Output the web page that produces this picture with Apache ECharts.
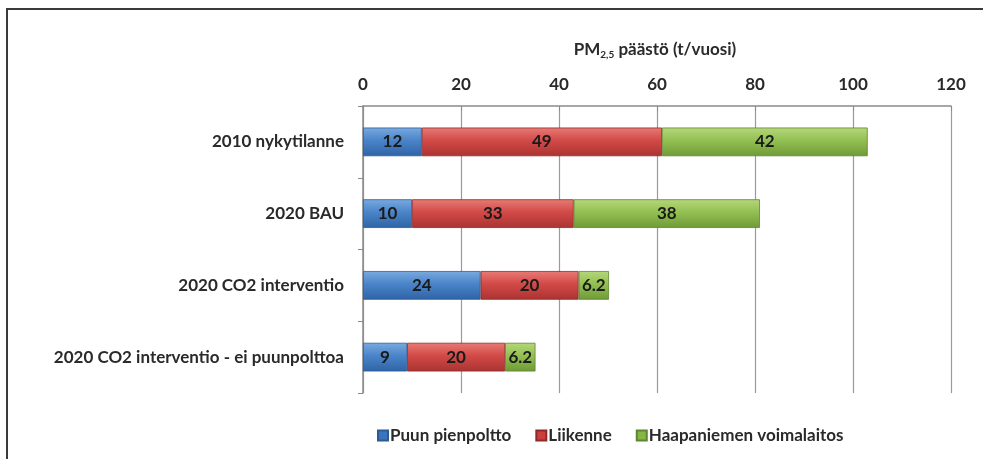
<!DOCTYPE html>
<html>
<head>
<meta charset="utf-8">
<script src="https://cdn.jsdelivr.net/npm/echarts@6/dist/echarts.min.js"></script>
<style>
  html, body { margin: 0; padding: 0; background: #fff; }
  #chart { width: 983px; height: 459px; }
</style>
</head>
<body>
<div id="chart"></div>
<script>
const categories = ['2010 nykytilanne', '2020 BAU', '2020 CO2 interventio', '2020 CO2 interventio - ei puunpolttoa']
const seriesNames = ['Puun pienpoltto', 'Liikenne', 'Haapaniemen voimalaitos']
const puu = [12, 10, 24, 9]
const liikenne = [49, 33, 20, 20]
const voimalaitos = [42, 38, 6.2, 6.2]
const xTicks = [0, 20, 40, 60, 80, 100, 120]

const fontFam = 'Lato, "Noto Sans", sans-serif'
const txt = '#2a2a2a'

// excel-like shaded fills
function shade(top, mid, bottom) {
  return new echarts.graphic.LinearGradient(0, 0, 0, 1, [
    { offset: 0, color: top },
    { offset: 0.45, color: mid },
    { offset: 1, color: bottom }
  ])
}
const fills = [
  shade('#7aaae0', '#4a84c8', '#2f64a6'),
  shade('#e87a76', '#d24a47', '#aa3331'),
  shade('#b5d77a', '#93c052', '#6f9a37')
]
const borders = ['#2d5a92', '#8e2a28', '#5f8530']
const legendColors = ['#3a74bd', '#cc3f3c', '#86b548']

// title pieces: PM + subscript 2,5 + rest, laid out side by side
const ctx = document.createElement('canvas').getContext('2d')
function w(s, size) { ctx.font = 'bold ' + size + 'px ' + fontFam; return ctx.measureText(s).width }
const t1 = 'PM', t2 = '2,5', t3 = ' päästö (t/vuosi)'
const titleW = w(t1, 17) + w(t2, 10) + w(t3, 17)
const tx = 655 - titleW / 2
const ty = 41
function titlePart(text, x, y, size) {
  return {
    type: 'text', x: x, y: y,
    style: { text: text, fontFamily: fontFam, fontSize: size, fontWeight: 'bold', fill: txt }
  }
}

const chart = echarts.init(document.getElementById('chart'))

const dataSets = [puu, liikenne, voimalaitos]

chart.setOption({
  animation: false,
  textStyle: { fontFamily: fontFam },
  graphic: [{
    type: 'rect',
    shape: { x: 7, y: 9, width: 1100, height: 600 },
    style: { fill: 'none', stroke: '#3a3a3a', lineWidth: 2 }
  },
    titlePart(t1, tx, ty, 17),
    titlePart(t2, tx + w(t1, 17), ty + 9, 10),
    titlePart(t3, tx + w(t1, 17) + w(t2, 10), ty, 17)
  ],
  legend: {
    bottom: 10,
    left: 372,
    itemWidth: 10,
    itemHeight: 10,
    itemGap: 24,
    icon: 'rect',
    textStyle: { fontFamily: fontFam, fontSize: 17, fontWeight: 'bold', color: txt, padding: [0, 0, 0, -3] },
    data: seriesNames.map((n, i) => ({ name: n, itemStyle: { color: legendColors[i] } }))
  },
  grid: { left: 363, right: 32, top: 106, bottom: 66 },
  xAxis: {
    type: 'value',
    position: 'top',
    min: 0,
    max: 120,
    interval: 20,
    axisLine: { show: true, lineStyle: { color: '#8a8a8a', width: 1.5 } },
    axisTick: { show: true, length: 5, inside: true, lineStyle: { color: '#8a8a8a' } },
    axisLabel: { fontFamily: fontFam, fontSize: 17, fontWeight: 'bold', color: txt, margin: 13,
      formatter: v => xTicks.indexOf(v) >= 0 ? String(v) : '' },
    splitLine: { show: true, lineStyle: { color: '#9a9a9a', width: 1.2 } }
  },
  yAxis: {
    type: 'category',
    inverse: true,
    data: categories,
    axisLine: { show: true, lineStyle: { color: '#8a8a8a', width: 1.5 } },
    axisTick: { show: true, length: 5, lineStyle: { color: '#8a8a8a' } },
    axisLabel: { fontFamily: fontFam, fontSize: 17, fontWeight: 'bold', color: txt, margin: 19 }
  },
  series: seriesNames.map((name, i) => ({
    name: name,
    type: 'bar',
    stack: 'total',
    barWidth: '40%',
    data: dataSets[i],
    itemStyle: { color: fills[i], borderColor: borders[i], borderWidth: 0.8 },
    label: {
      show: true,
      position: 'inside',
      fontFamily: fontFam,
      fontSize: 17,
      fontWeight: 'bold',
      color: '#1a1a1a'
    }
  }))
})
</script>
</body>
</html>
